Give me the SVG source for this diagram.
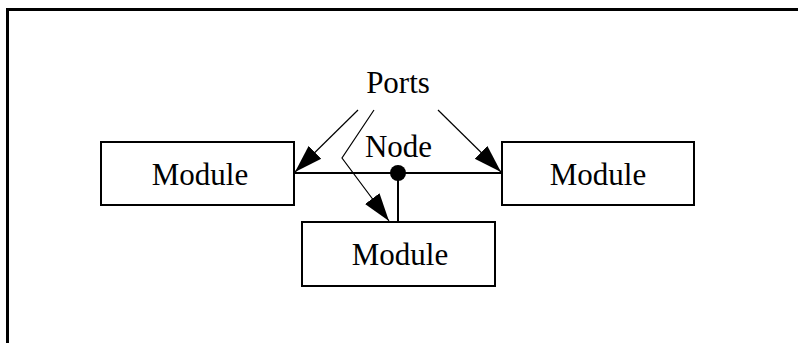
<svg xmlns="http://www.w3.org/2000/svg" width="798" height="343" viewBox="0 0 798 343">
<style>
.box{fill:#fff;stroke:#000;stroke-width:2}
.lbl{font-family:"Liberation Serif","Times New Roman",serif;font-size:31px;fill:#000;text-anchor:middle}
.wire{stroke:#000;stroke-width:2;fill:none}
.ptr{stroke:#000;stroke-width:1.2;fill:none}
</style>
<defs>
<marker id="ah" markerUnits="userSpaceOnUse" markerWidth="30" markerHeight="20" viewBox="0 0 30 20" refX="28" refY="10" orient="auto">
<path d="M0,1 L28,10 L0,19 Z" fill="#000"/>
</marker>
</defs>
<rect width="798" height="343" fill="#fff"/>
<path d="M7.5,343 V9.5 H798" fill="none" stroke="#000" stroke-width="3"/>
<g id="connectors">
<line class="wire" x1="294" y1="173" x2="502" y2="173"/>
<line class="wire" x1="398" y1="173" x2="398" y2="222"/>
<path class="ptr" d="M358,110 L295,172" marker-end="url(#ah)"/>
<path class="ptr" d="M374,110 L342,158 L389,221" marker-end="url(#ah)"/>
<path class="ptr" d="M438,110 L501,172" marker-end="url(#ah)"/>
</g>
<g id="node">
<circle cx="398" cy="173" r="8" fill="#000"/>
<text class="lbl" x="398.5" y="157">Node</text>
</g>
<g id="ports">
<text class="lbl" x="398" y="93">Ports</text>
</g>
<g id="module-left">
<rect class="box" x="101" y="142" width="193" height="63"/>
<text class="lbl" x="200" y="185">Module</text>
</g>
<g id="module-right">
<rect class="box" x="502" y="142" width="192" height="63"/>
<text class="lbl" x="598" y="185">Module</text>
</g>
<g id="module-bottom">
<rect class="box" x="302" y="222" width="193" height="64"/>
<text class="lbl" x="400" y="265">Module</text>
</g>
</svg>
